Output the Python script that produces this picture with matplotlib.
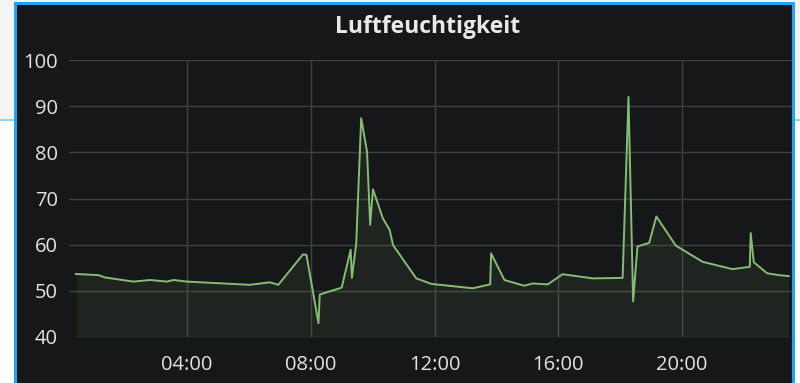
import matplotlib
matplotlib.use("Agg")
import matplotlib.pyplot as plt
from matplotlib.patches import Rectangle

# humidity readings over one day: hour of day, relative humidity in %
hours = [0.41, 1.14, 1.35, 2.27, 2.81, 3.35, 3.56, 4.0, 6.03, 6.68, 6.95,
         7.75, 7.86, 8.25, 8.29, 9.0, 9.29, 9.33, 9.47, 9.63, 9.82, 9.92,
         10.01, 10.33, 10.55, 10.66, 11.41, 11.9, 13.24, 13.8, 13.83, 14.26,
         14.9, 15.17, 15.66, 16.14, 17.11, 18.08, 18.27, 18.42, 18.56, 18.94,
         19.17, 19.8, 20.66, 21.63, 22.19, 22.22, 22.32, 22.75, 23.13, 23.45]
humidity = [53.65, 53.4, 52.9, 52.0, 52.35, 52.0, 52.35, 52.0, 51.3, 51.85, 51.3,
            57.9, 57.8, 43.0, 49.2, 50.7, 58.9, 52.8, 60.3, 87.4, 80.1, 64.3,
            72.0, 65.7, 63.2, 59.9, 52.7, 51.5, 50.55, 51.4, 58.1, 52.35,
            51.1, 51.6, 51.4, 53.6, 52.7, 52.8, 92.0, 47.7, 59.6, 60.4,
            66.1, 59.8, 56.3, 54.7, 55.2, 62.5, 56.2, 53.8, 53.4, 53.2]

tick_hours = [4, 8, 12, 16, 20]
tick_labels = ["04:00", "08:00", "12:00", "16:00", "20:00"]
y_ticks = [40, 50, 60, 70, 80, 90, 100]

W, H = 800, 383
BG = "#161719"
BLUE = "#1ea5f2"
TXT = "#e2e3e4"


def box(x0, y0, x1, y1):
    # pixel box (top-left origin) -> figure fraction rect
    return (x0 / W, 1 - y1 / H, (x1 - x0) / W, (y1 - y0) / H)


fig = plt.figure(figsize=(W / 100, H / 100), dpi=100, facecolor="white")

# page around the panel
for r, c in [(box(0, 0, W, 120), "#f5f5f5"),
             (box(0, 119, W, 121), "#8fd0f5"),
             (box(14, 2, 795, H), BLUE),
             (box(17, 5, 792, H), BG)]:
    fig.add_artist(Rectangle(r[:2], r[2], r[3], transform=fig.transFigure,
                             facecolor=c, edgecolor="none", zorder=0))

ax = fig.add_axes(box(69, 60, 792, 337))
ax.set_facecolor(BG)
ax.plot(hours, humidity, color="#86bd74", lw=1.4, zorder=3)
ax.fill_between(hours, humidity, 40, color="#7eb26d", alpha=0.09, lw=0, zorder=2)

ax.set_xlim(0.186, 23.555)
ax.set_ylim(40, 100)
ax.set_xticks(tick_hours)
ax.set_xticklabels(tick_labels)
ax.set_yticks(y_ticks)
ax.grid(True, color="#3f4041", lw=1)
ax.set_axisbelow(True)
for s in ax.spines.values():
    s.set_visible(False)
ax.tick_params(length=0, labelsize=14.5, labelcolor=TXT)
ax.tick_params(axis="x", pad=13)
ax.tick_params(axis="y", pad=8)
for t in ax.get_xticklabels() + ax.get_yticklabels():
    t.set_family("Open Sans")

fig.text(428 / W, 1 - 27 / H, "Luftfeuchtigkeit", ha="center", va="center",
         color="#e6e8ea", fontsize=16.5, fontweight="bold", family="Open Sans")

fig.savefig("out.png", dpi=100, facecolor=fig.get_facecolor())
